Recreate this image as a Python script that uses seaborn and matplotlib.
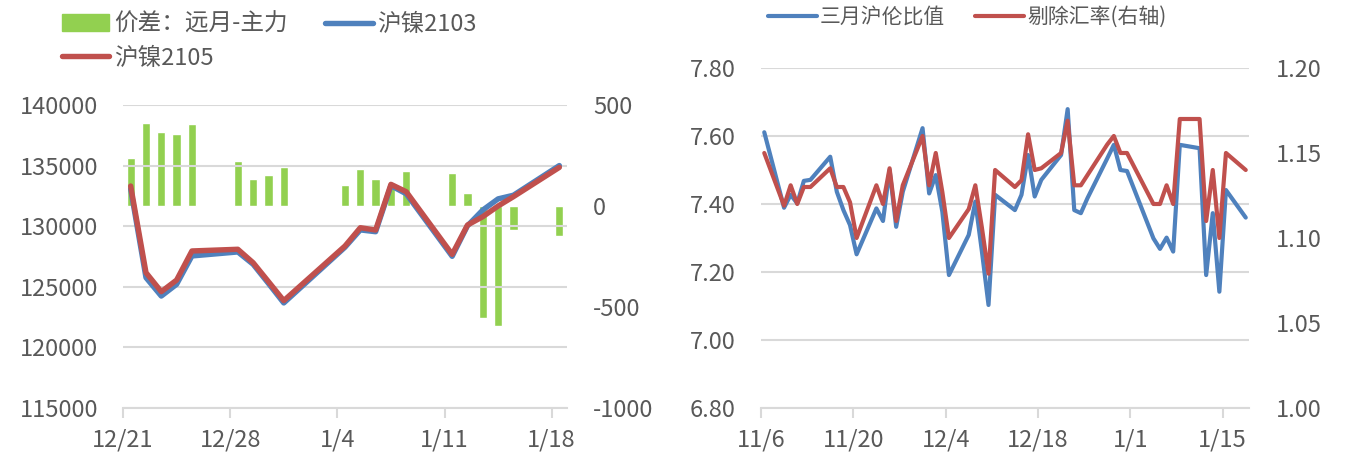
import pandas as pd
import matplotlib.pyplot as plt
import matplotlib.dates as mdates
import matplotlib.ticker as mticker
from matplotlib.patches import Patch
from matplotlib.lines import Line2D
import seaborn as sns

# left chart: 沪镍2103 / 沪镍2105 and the spread between them
ni_dates = ["2020-12-21", "2020-12-22", "2020-12-23", "2020-12-24", "2020-12-25",
            "2020-12-28", "2020-12-29", "2020-12-30", "2020-12-31",
            "2021-01-04", "2021-01-05", "2021-01-06", "2021-01-07", "2021-01-08",
            "2021-01-11", "2021-01-12", "2021-01-13", "2021-01-14", "2021-01-15",
            "2021-01-18"]
spread = [240, 410, 365, 355, 405, 225, 135, 155, 195, 105,
          185, 135, 115, 175, 165, 65, -555, -595, -120, -150]
ni2103 = [133080, 125760, 124240, 125210, 127550, 127880, 126860, 125280, 123670, 128270,
          129700, 129550, 133350, 132680, 127520, 130040, 131340, 132260, 132560, 135010]
ni2105 = [133320, 126170, 124600, 125560, 127960, 128100, 126990, 125430, 123860, 128370,
          129880, 129690, 133460, 132850, 127680, 130100, 130790, 131670, 132440, 134860]

# right chart: 三月沪伦比值 and the ratio without fx
ratio_dates = ["2020-11-06",
               "2020-11-09", "2020-11-10", "2020-11-11", "2020-11-12", "2020-11-13",
               "2020-11-16", "2020-11-17", "2020-11-18", "2020-11-19", "2020-11-20",
               "2020-11-23", "2020-11-24", "2020-11-25", "2020-11-26", "2020-11-27",
               "2020-11-30", "2020-12-01", "2020-12-02", "2020-12-03", "2020-12-04",
               "2020-12-07", "2020-12-08", "2020-12-09", "2020-12-10", "2020-12-11",
               "2020-12-14", "2020-12-15", "2020-12-16", "2020-12-17", "2020-12-18",
               "2020-12-21", "2020-12-22", "2020-12-23", "2020-12-24", "2020-12-25",
               "2020-12-28", "2020-12-29", "2020-12-30", "2020-12-31",
               "2021-01-04", "2021-01-05", "2021-01-06", "2021-01-07", "2021-01-08",
               "2021-01-11", "2021-01-12", "2021-01-13", "2021-01-14", "2021-01-15",
               "2021-01-18"]
lme_ratio = [7.611,
             7.389, 7.427, 7.402, 7.468, 7.471,
             7.539, 7.436, 7.382, 7.338, 7.252,
             7.387, 7.350, 7.500, 7.333, 7.436,
             7.623, 7.431, 7.485, 7.377, 7.191,
             7.309, 7.407, 7.260, 7.103, 7.427,
             7.382, 7.427, 7.544, 7.422, 7.471,
             7.544, 7.679, 7.382, 7.373, 7.417,
             7.534, 7.574, 7.500, 7.497,
             7.299, 7.268, 7.301, 7.260, 7.574,
             7.564, 7.191, 7.373, 7.142, 7.441,
             7.360]
ex_fx = [1.150,
         1.119, 1.131, 1.120, 1.130, 1.130,
         1.141, 1.130, 1.130, 1.121, 1.100,
         1.131, 1.120, 1.141, 1.110, 1.131,
         1.160, 1.131, 1.150, 1.127, 1.100,
         1.117, 1.131, 1.106, 1.079, 1.140,
         1.130, 1.134, 1.161, 1.140, 1.141,
         1.150, 1.169, 1.131, 1.131, 1.137,
         1.155, 1.160, 1.150, 1.150,
         1.120, 1.120, 1.131, 1.120, 1.170,
         1.170, 1.110, 1.140, 1.100, 1.150,
         1.140]

GREEN = "#92D050"
BLUE = "#4F81BD"
RED = "#C0504D"
GRID = "#D9D9D9"
TEXT = "#595959"
FS = 17

sns.set_theme(style="white")
plt.rcParams['font.family'] = ['Noto Sans CJK SC', 'DejaVu Sans']
plt.rcParams['axes.unicode_minus'] = False

half_day = pd.Timedelta(hours=12)
x_ni = pd.to_datetime(ni_dates) + half_day
x_ratio = pd.to_datetime(ratio_dates) + half_day


def md(v, pos):
    d = mdates.num2date(v)
    return f"{d.month}/{d.day}"


def style(ax, twin, xpad=8):
    for a in (ax, twin):
        for s in a.spines.values():
            s.set_visible(False)
        a.set_xlabel('')
        a.set_ylabel('')
    ax.spines['bottom'].set_visible(True)
    ax.spines['bottom'].set_color(GRID)
    ax.spines['bottom'].set_linewidth(1.5)
    ax.grid(axis='y', color=GRID, lw=1.5)
    ax.grid(axis='x', visible=False)
    ax.tick_params(axis='y', length=0, labelsize=FS, labelcolor=TEXT, pad=18)
    twin.tick_params(axis='y', length=0, labelsize=FS, labelcolor=TEXT, pad=19)
    ax.tick_params(axis='x', bottom=True, length=7, width=1.5, color=GRID,
                   labelsize=FS, labelcolor=TEXT, pad=xpad)
    ax.xaxis.set_major_formatter(mticker.FuncFormatter(md))


fig = plt.figure(figsize=(13.49, 4.61), dpi=100)

# ---- left chart
ax1 = fig.add_axes([0.0912, 0.115, 0.3291, 0.657])
ax1b = ax1.twinx()
ax1.set_zorder(ax1b.get_zorder() + 1)
ax1.patch.set_visible(False)

ax1b.bar(x_ni, spread, width=0.54, color=GREEN)
sns.lineplot(x=x_ni, y=ni2103, ax=ax1, color=BLUE, lw=3.9,
             solid_capstyle='round', solid_joinstyle='round')
sns.lineplot(x=x_ni, y=ni2105, ax=ax1, color=RED, lw=3.9,
             solid_capstyle='round', solid_joinstyle='round')

ax1.set_ylim(115000, 140000)
ax1.set_yticks(range(115000, 140001, 5000))
ax1b.set_ylim(-1000, 500)
ax1b.set_yticks([-1000, -500, 0, 500])
ax1.set_xlim(pd.Timestamp("2020-12-21"), pd.Timestamp("2021-01-19"))
ax1.set_xticks(pd.date_range("2020-12-21", "2021-01-18", freq="7D"))
style(ax1, ax1b)

h1 = [Patch(color=GREEN),
      Line2D([], [], color=RED, lw=3.9, solid_capstyle='round'),
      Line2D([], [], color=BLUE, lw=3.9, solid_capstyle='round')]
fig.legend(h1, ["价差：远月-主力", "沪镍2105", "沪镍2103"], loc='upper left',
           bbox_to_anchor=(0.046, 0.972), ncol=2, frameon=False, fontsize=FS,
           labelcolor=TEXT, handlelength=2.0, handletextpad=0.2, columnspacing=1.6,
           labelspacing=0.45, borderaxespad=0, borderpad=0)

# ---- right chart
ax2 = fig.add_axes([0.5641, 0.115, 0.3618, 0.7375])
ax2b = ax2.twinx()
sns.lineplot(x=x_ratio, y=lme_ratio, ax=ax2, color=BLUE, lw=3.0,
             solid_capstyle='round', solid_joinstyle='round')
sns.lineplot(x=x_ratio, y=ex_fx, ax=ax2b, color=RED, lw=3.0,
             solid_capstyle='round', solid_joinstyle='round')

ax2.set_ylim(6.8, 7.8)
ax2.set_yticks([6.8, 7.0, 7.2, 7.4, 7.6, 7.8])
ax2.yaxis.set_major_formatter(mticker.FormatStrFormatter('%.2f'))
ax2b.set_ylim(1.0, 1.2)
ax2b.set_yticks([1.0, 1.05, 1.10, 1.15, 1.20])
ax2b.yaxis.set_major_formatter(mticker.FormatStrFormatter('%.2f'))
ax2.set_xlim(pd.Timestamp("2020-11-06"), pd.Timestamp("2021-01-19"))
ax2.set_xticks(pd.date_range("2020-11-06", "2021-01-15", freq="14D"))
style(ax2, ax2b)

h2 = [Line2D([], [], color=BLUE, lw=3.0, solid_capstyle='round'),
      Line2D([], [], color=RED, lw=3.0, solid_capstyle='round')]
fig.legend(h2, ["三月沪伦比值", "剔除汇率(右轴)"], loc='upper left',
           bbox_to_anchor=(0.569, 0.987), ncol=2, frameon=False, fontsize=15,
           labelcolor=TEXT, handlelength=2.35, handletextpad=0.15, columnspacing=1.45,
           borderaxespad=0, borderpad=0)

fig.savefig("out.png", dpi=100)
